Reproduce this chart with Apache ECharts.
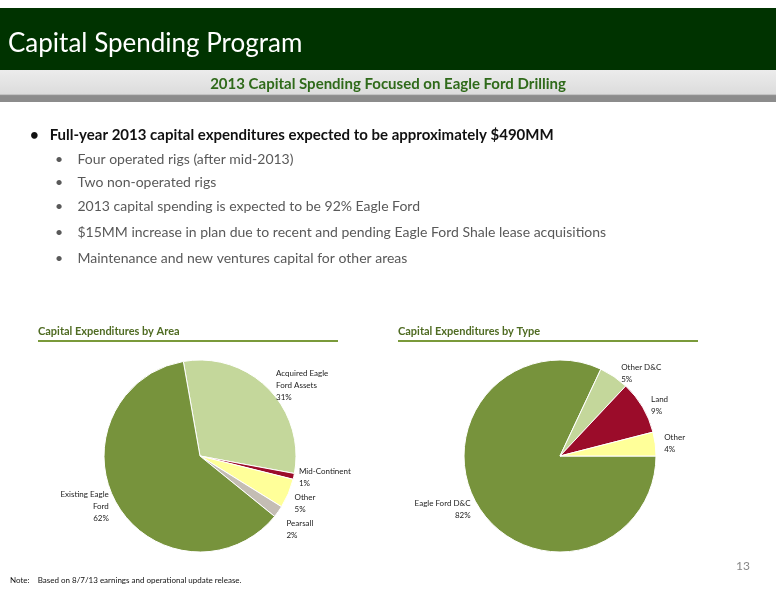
<!DOCTYPE html><html><head><meta charset="utf-8"><script src="https://cdn.jsdelivr.net/npm/echarts@6/dist/echarts.min.js"></script>
<style>body{margin:0}#c{width:776px;height:600px}</style></head><body><div id="c"></div><script>
const areaNames=['Acquired Eagle\nFord Assets','Mid-Continent','Other','Pearsall','Existing Eagle\nFord'];
const areaValues=[31,1,5,2,62];
const areaColors=['#c4d79b','#9b0c2a','#ffff99','#c4bdb4','#77933c'];
const typeNames=['Eagle Ford D&C','Other D&C','Land','Other'];
const typeValues=[82,5,9,4];
const typeColors=['#77933c','#c4d79b','#9b0c2a','#ffff99'];
const bullets=['Four operated rigs (after mid-2013)','Two non-operated rigs','2013 capital spending is expected to be 92% Eagle Ford','$15MM increase in plan due to recent and pending Eagle Ford Shale lease acquisitions','Maintenance and new ventures capital for other areas'];
const bulletY=[159,182,206,232,258];
const F='Lato, "Open Sans", sans-serif';
const g=[
{type:'rect',shape:{x:0,y:8,width:776,height:62},style:{fill:'#003300'}},
{type:'text',style:{x:8,y:44,text:'Capital Spending Program',fill:'#fff',font:'26px '+F,verticalAlign:'middle'}},
{type:'rect',shape:{x:0,y:70,width:776,height:32},style:{fill:{type:'linear',x:0,y:0,x2:0,y2:1,colorStops:[{offset:0,color:'#ececec'},{offset:0.75,color:'#dcdcdc'},{offset:0.8,color:'#8c8c8c'},{offset:1,color:'#8c8c8c'}]}}},
{type:'text',style:{x:388,y:84,text:'2013 Capital Spending Focused on Eagle Ford Drilling',fill:'#2f6a1a',font:'bold 15px '+F,align:'center',verticalAlign:'middle'}},
{type:'text',style:{x:30,y:135,text:'•   Full-year 2013 capital expenditures expected to be approximately $490MM',fill:'#111',font:'bold 15px '+F,verticalAlign:'middle'}},
{type:'text',style:{x:38,y:331,text:'Capital Expenditures by Area',fill:'#4f6b22',font:'bold 11px '+F,verticalAlign:'middle'}},
{type:'text',style:{x:398,y:331,text:'Capital Expenditures by Type',fill:'#4f6b22',font:'bold 11px '+F,verticalAlign:'middle'}},
{type:'rect',shape:{x:38,y:340,width:300,height:2},style:{fill:'#7a9a3a'}},
{type:'rect',shape:{x:398,y:340,width:300,height:2},style:{fill:'#7a9a3a'}},
{type:'text',style:{x:750,y:566,text:'13',fill:'#888',font:'12px '+F,align:'right',verticalAlign:'middle'}},
{type:'text',style:{x:10,y:580,text:'Note:    Based on 8/7/13 earnings and operational update release.',fill:'#111',font:'8px '+F,verticalAlign:'middle'}}
];
bullets.forEach((b,i)=>g.push({type:'text',style:{x:55,y:bulletY[i],text:'•    '+b,fill:'#595959',font:'14px '+F,verticalAlign:'middle'}}));
const lab={show:true,position:'outside',formatter:'{b}\n{d}%',fontSize:8,fontFamily:F,color:'#222',lineHeight:12,align:'center'};
const chart=echarts.init(document.getElementById('c'));
chart.setOption({animation:false,graphic:g,series:[
{type:'pie',center:[200,456],radius:96,startAngle:100,clockwise:true,
 data:areaNames.map((n,i)=>({name:n,value:areaValues[i],itemStyle:{color:areaColors[i]}})),
 itemStyle:{borderColor:'#fff',borderWidth:1},label:Object.assign({},lab,{formatter:p=>p.name+'\n'+p.value+'%'}),labelLine:{show:false,length:4,length2:0}},
{type:'pie',center:[560,456],radius:96,startAngle:0,clockwise:true,
 data:typeNames.map((n,i)=>({name:n,value:typeValues[i],itemStyle:{color:typeColors[i]}})),
 itemStyle:{borderColor:'#fff',borderWidth:1},label:Object.assign({},lab,{formatter:p=>p.name+'\n'+p.value+'%'}),labelLine:{show:false,length:4,length2:0}}
]});
</script></body></html>
